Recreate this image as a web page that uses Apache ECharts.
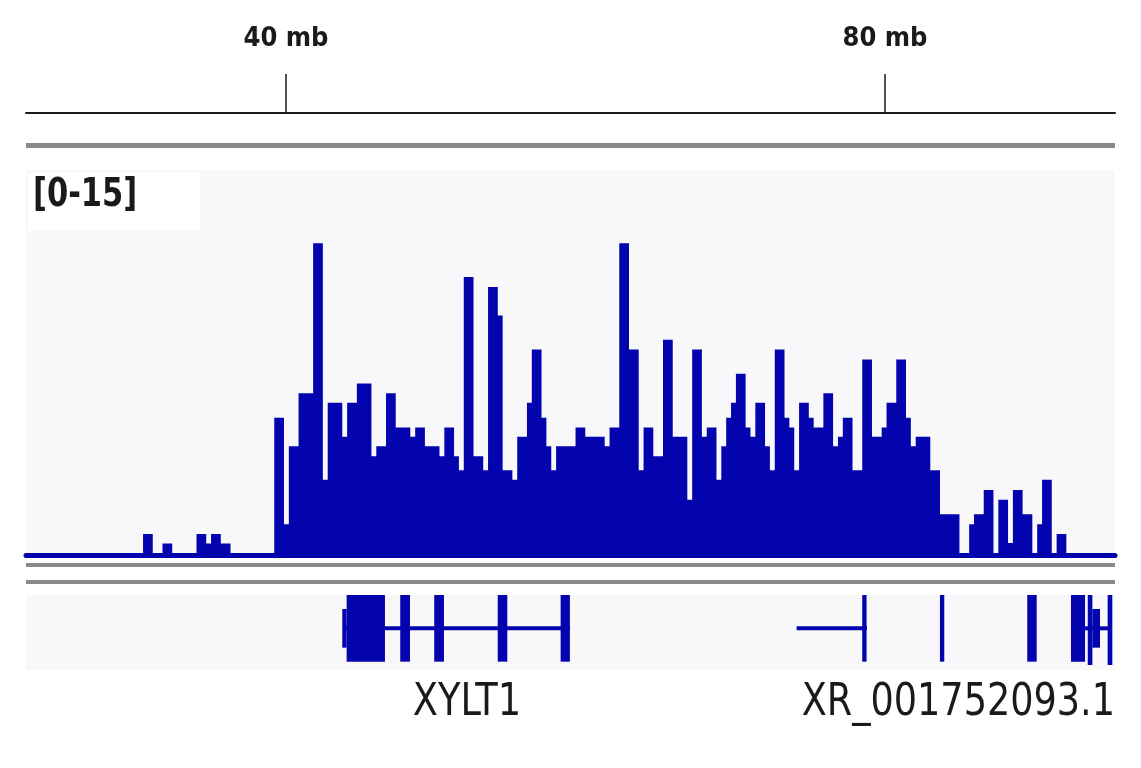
<!DOCTYPE html>
<html>
<head>
<meta charset="utf-8">
<script src="https://cdn.jsdelivr.net/npm/echarts@6/dist/echarts.min.js"></script>
<style>
  html, body { margin: 0; padding: 0; background: #ffffff; }
  #chart { width: 1141px; height: 768px; }
</style>
</head>
<body>
<div id="chart"></div>
<script>
// ---- Data ----
const VIEW_START_MB = 22.64;
const VIEW_END_MB = 95.36;
const RULER_TICKS_MB = [40, 80];
const RULER_LABELS = ['40 mb', '80 mb'];
const DATA_RANGE = [0, 15];
const DATA_RANGE_LABEL = '[0-15]';

const BIN_START_MB = 30.456;
const BIN_SIZE_MB = 0.3245;
const COVERAGE = [
  0.82,0.82,0,0,0.45,0.45,0,0,0,0,0,0.82,0.82,0.45,0.82,0.82,0.45,0.45,0,0,0,0,0,0,0,0,0,
  5.35,5.35,1.20,4.24,4.24,6.30,6.30,6.30,12.15,12.15,2.93,5.93,5.93,5.93,4.61,5.93,5.93,
  6.68,6.68,6.68,3.85,4.24,4.24,6.30,6.30,4.97,4.97,4.97,4.61,4.97,4.97,4.24,4.24,4.24,
  3.85,4.97,4.97,3.85,3.30,
  10.83,10.83,
  3.85,3.85,3.30,10.44,10.44,9.33,3.30,3.30,2.93,4.61,4.61,5.93,8.01,8.01,5.35,4.24,3.30,
  4.24,4.24,4.24,4.24,4.97,4.97,4.61,4.61,4.61,4.61,4.24,4.97,4.97,12.15,12.15,8.01,8.01,
  3.30,4.97,4.97,3.85,3.85,
  8.39,8.39,
  4.61,4.61,4.61,2.15,8.01,8.01,4.61,4.97,4.97,2.93,4.24,5.35,5.93,7.06,7.06,4.97,4.61,
  5.93,5.93,4.24,3.30,8.01,8.01,5.35,4.97,3.30,5.93,5.93,5.35,4.97,4.97,6.30,6.30,4.24,
  4.61,5.35,5.35,3.30,3.30,
  7.62,7.62,
  4.61,4.61,4.97,5.93,5.93,7.62,7.62,5.35,4.24,4.61,4.61,4.61,3.30,3.30,1.59,1.59,1.59,1.59,
  0,0,1.20,1.59,1.59,2.53,2.53,0,2.15,2.15,0.47,2.53,2.53,1.59,1.59,0,1.20,2.93,2.93,0,
  0.82,0.82,0
];

// Gene features (mb)
const GENE_INTRONS = [[43.94, 58.96], [74.10, 78.80], [93.36, 95.16]];
const EXONS_CDS = [[44.05, 46.61], [47.63, 48.28], [49.90, 50.55], [54.14, 54.78], [58.34, 58.96],
                   [78.48, 78.77], [83.67, 83.96], [89.50, 90.13], [92.42, 93.36]];
const EXONS_TALL = [[93.54, 93.85], [94.87, 95.18]];
const EXONS_UTR = [[43.76, 44.05], [93.85, 94.36]];
const GENE_NAMES = ['XYLT1', 'XR_001752093.1'];

// ---- Build ----
const BLUE = '#0404ae';
const FONT = '"Liberation Sans Narrow", "Arial Narrow", "DejaVu Sans Condensed", sans-serif';

const covData = COVERAGE.map((v, i) => [BIN_START_MB + i * BIN_SIZE_MB, v]);
covData.push([BIN_START_MB + COVERAGE.length * BIN_SIZE_MB, 0]);

function exonSeries(data, top, bottom) {
  return {
    type: 'custom', xAxisIndex: 3, yAxisIndex: 2, data: data,
    encode: { x: [0, 1] }, silent: true,
    renderItem: function (params, api) {
      const p1 = api.coord([api.value(0), top]);
      const p2 = api.coord([api.value(1), bottom]);
      return { type: 'rect', shape: { x: p1[0], y: p1[1], width: Math.max(p2[0] - p1[0], 1), height: p2[1] - p1[1] },
               style: { fill: BLUE } };
    }
  };
}

const chart = echarts.init(document.getElementById('chart'), null, { renderer: 'canvas' });
const L = 26, W = 1089;
chart.setOption({
  animation: false,
  backgroundColor: '#ffffff',
  grid: [
    { left: L, width: W, top: 74, height: 39 },
    { left: L, width: W, top: 170, height: 385, show: true, backgroundColor: '#f8f8fa', borderWidth: 0 },
    { left: L, width: W, top: 595, height: 75, show: true, backgroundColor: '#f8f8fa', borderWidth: 0 }
  ],
  xAxis: [
    { gridIndex: 0, type: 'value', min: VIEW_START_MB, max: VIEW_END_MB, position: 'bottom',
      axisLine: { lineStyle: { color: '#1a1a1a', width: 2 } },
      axisTick: { show: true, inside: true, length: 39, customValues: RULER_TICKS_MB, lineStyle: { color: '#1a1a1a', width: 1.5 } },
      axisLabel: { show: false }, splitLine: { show: false } },
    { gridIndex: 0, type: 'value', min: VIEW_START_MB, max: VIEW_END_MB, position: 'top',
      axisLine: { show: false }, axisTick: { show: false }, splitLine: { show: false },
      axisLabel: { show: true, margin: 22, customValues: RULER_TICKS_MB,
        formatter: function (v) { return RULER_LABELS[RULER_TICKS_MB.indexOf(v)]; },
        fontFamily: FONT, fontWeight: 'bold', fontSize: 27, color: '#1a1a1a' } },
    { gridIndex: 1, type: 'value', min: VIEW_START_MB, max: VIEW_END_MB,
      axisLine: { show: true, lineStyle: { color: BLUE, width: 5 } },
      axisTick: { show: false }, axisLabel: { show: false }, splitLine: { show: false } },
    { gridIndex: 2, type: 'value', min: VIEW_START_MB, max: VIEW_END_MB, show: false }
  ],
  yAxis: [
    { gridIndex: 0, type: 'value', show: false },
    { gridIndex: 1, type: 'value', min: DATA_RANGE[0], max: DATA_RANGE[1], show: false },
    { gridIndex: 2, type: 'value', min: -1.25, max: 1, show: false }
  ],
  graphic: [
    { type: 'rect', left: L, top: 143, shape: { width: W, height: 5 }, style: { fill: '#8a8a8a' }, z: 0 },
    { type: 'rect', left: L, top: 563, shape: { width: W, height: 4 }, style: { fill: '#8a8a8a' }, z: 0 },
    { type: 'rect', left: L, top: 580, shape: { width: W, height: 4 }, style: { fill: '#8a8a8a' }, z: 0 },
    { type: 'rect', left: 28, top: 173, shape: { width: 172, height: 58 }, style: { fill: '#ffffff' }, z: 5 },
    { type: 'text', x: 33, y: 196, scaleX: 0.87, z: 10,
      style: { text: DATA_RANGE_LABEL, font: 'bold 39px ' + FONT, fill: '#1a1a1a', textVerticalAlign: 'middle' } },
    { type: 'text', x: 467, y: 704, scaleX: 0.93, z: 10,
      style: { text: GENE_NAMES[0], font: '44px ' + FONT, fill: '#1a1a1a', textAlign: 'center', textVerticalAlign: 'middle' } },
    { type: 'text', x: 1115, y: 704, scaleX: 0.925, z: 10,
      style: { text: GENE_NAMES[1], font: '44px ' + FONT, fill: '#1a1a1a', textAlign: 'right', textVerticalAlign: 'middle' } }
  ],
  series: [
    { type: 'line', xAxisIndex: 2, yAxisIndex: 1, data: covData, step: 'end', symbol: 'none',
      lineStyle: { width: 0 }, areaStyle: { color: BLUE, opacity: 1 }, silent: true, z: 3 },
    {
      type: 'custom', xAxisIndex: 3, yAxisIndex: 2, data: GENE_INTRONS, encode: { x: [0, 1] }, silent: true,
      renderItem: function (params, api) {
        const p1 = api.coord([api.value(0), 0]);
        const p2 = api.coord([api.value(1), 0]);
        return { type: 'rect', shape: { x: p1[0], y: p1[1] - 2, width: p2[0] - p1[0], height: 4 }, style: { fill: BLUE } };
      }
    },
    exonSeries(EXONS_CDS, 1, -1),
    exonSeries(EXONS_TALL, 1, -1.1),
    exonSeries(EXONS_UTR, 0.58, -0.58)
  ]
});
</script>
</body>
</html>
